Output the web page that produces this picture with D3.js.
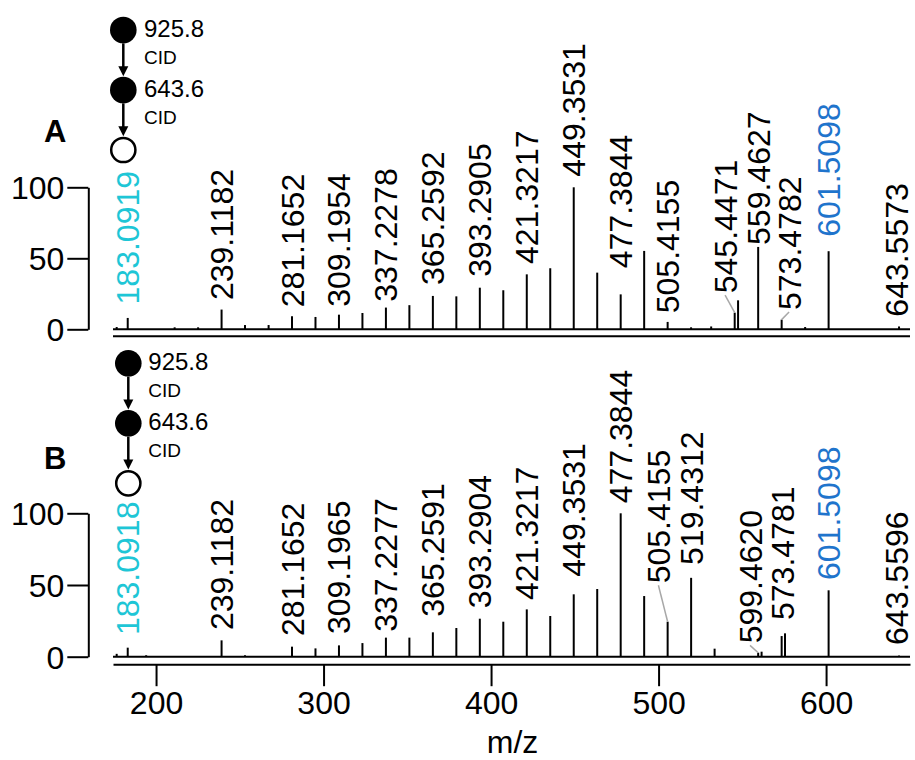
<!DOCTYPE html>
<html>
<head>
<meta charset="utf-8">
<script src="https://cdn.jsdelivr.net/npm/d3@7"></script>
<style>
  html, body { margin: 0; padding: 0; background: #fff; }
  svg { display: block; font-family: "Liberation Sans", Arial, Helvetica, sans-serif; }
</style>
</head>
<body>
<svg id="chart" width="915" height="760"></svg>
<script>
// ---- data -------------------------------------------------------------
const mzTicks = [200, 300, 400, 500, 600];
const intensityTicks = [0, 50, 100];
const precursors = ["925.8", "643.6"];
const activation = "CID";

// Spectrum A: m/z and relative intensity (%)
const peaksAmz  = [176.5, 183.0919, 211.1, 225.1, 239.1182, 253.1, 267.2, 281.1652, 295.18, 309.1954,
                   323.21, 337.2278, 351.24, 365.2592, 379.27, 393.2905, 407.30, 421.3217, 435.33,
                   449.3531, 463.37, 477.3844, 491.40, 505.4155, 519.4, 531.4, 545.4471, 547.46,
                   559.4627, 573.4782, 587.5, 601.5098, 643.5573];
const peaksAint = [1.6, 8.0, 1.4, 1.4, 13.9, 3.0, 3.0, 9.2, 8.7, 10.3,
                   11.5, 15.3, 17.0, 23.5, 23.2, 29.3, 27.5, 38.7, 43.0,
                   100, 39.9, 24.6, 55.2, 5.2, 1.4, 2.0, 11.7, 20.4,
                   58.0, 6.8, 1.6, 55.0, 2.0];

// Spectrum B
const peaksBmz  = [176.5, 183.0918, 194.1, 239.1182, 253.1, 281.1652, 295.18, 309.1965, 323.21,
                   337.2277, 351.24, 365.2591, 379.27, 393.2904, 407.30, 421.3217, 435.33,
                   449.3531, 463.37, 477.3844, 491.40, 505.4155, 519.4312, 533.45, 559.4620,
                   561.5, 573.4781, 575.49, 601.5098, 643.5596];
const peaksBint = [2.0, 6.3, 1.0, 11.4, 1.0, 7.0, 5.8, 7.9, 9.5,
                   13.3, 13.3, 17.0, 20.0, 26.5, 24.4, 33.0, 28.4,
                   43.5, 47.2, 100, 42.3, 24.4, 55.0, 5.6, 2.8,
                   3.5, 14.4, 16.3, 46.3, 0.8];

// Peak annotations: [text, annotated peak m/z, label m/z, label start level (%)]
const labelsA = [
  ["183.0919", 183.0919, 183.0919, 17.5],
  ["239.1182", 239.1182, 239.1182, 20.6],
  ["281.1652", 281.1652, 281.1652, 15.5],
  ["309.1954", 309.1954, 309.1954, 15.9],
  ["337.2278", 337.2278, 337.2278, 19.4],
  ["365.2592", 365.2592, 365.2592, 31.2],
  ["393.2905", 393.2905, 393.2905, 37.0],
  ["421.3217", 421.3217, 421.3217, 46.0],
  ["449.3531", 449.3531, 449.3531, 107.5],
  ["477.3844", 477.3844, 477.3844, 43.0],
  ["505.4155", 505.4155, 505.4155, 11.3],
  ["545.4471", 545.4471, 539.7, 25.4],
  ["559.4627", 559.4627, 559.4627, 59.4],
  ["573.4782", 573.4782, 577.9, 13.6],
  ["601.5098", 601.5098, 601.5098, 65.2],
  ["643.5573", 643.5573, 642.2, 8.9]
];
const labelsB = [
  ["183.0918", 183.0918, 183.0918, 15.1],
  ["239.1182", 239.1182, 239.1182, 18.6],
  ["281.1652", 281.1652, 281.1652, 14.4],
  ["309.1965", 309.1965, 309.1965, 15.8],
  ["337.2277", 337.2277, 337.2277, 17.4],
  ["365.2591", 365.2591, 365.2591, 27.9],
  ["393.2904", 393.2904, 393.2904, 33.7],
  ["421.3217", 421.3217, 421.3217, 39.5],
  ["449.3531", 449.3531, 449.3531, 55.8],
  ["477.3844", 477.3844, 477.3844, 107.0],
  ["505.4155", 505.4155, 499.9, 51.2],
  ["519.4312", 519.4312, 519.4312, 64.0],
  ["599.4620", 559.4620, 554.6, 9.3],
  ["573.4781", 573.4781, 574.0, 25.6],
  ["601.5098", 601.5098, 601.5098, 53.5],
  ["643.5596", 643.5596, 642.0, 8.2]
];

// ---- layout ----------------------------------------------------------
const svg = d3.select("#chart");
const CYAN = "#1ec6d6", BLUE = "#1f74cc", GREY = "#a8a8a8";
const labelFont = 32;

const x = d3.scaleLinear().domain([174.3, 650.1]).range([113, 910]);

const panels = [
  { name: "A", mz: peaksAmz, inten: peaksAint, labels: labelsA,
    y: d3.scaleLinear().domain([0, 100]).range([329.3, 187.3]),
    scheme: { cx: 123.3, cy: 30, tx: 144, letterY: 142 }, xAxis: false },
  { name: "B", mz: peaksBmz, inten: peaksBint, labels: labelsB,
    y: d3.scaleLinear().domain([0, 100]).range([656.7, 513.3]),
    scheme: { cx: 128.3, cy: 363.3, tx: 148.3, letterY: 469 }, xAxis: true }
];

function labelColour(t) {
  if (t.startsWith("183.")) return CYAN;
  if (t.startsWith("601.")) return BLUE;
  return "#000";
}

panels.forEach(p => {
  const g = svg.append("g");
  const y = p.y;
  const base = y(0);

  // intensity axis
  const yAxis = d3.axisLeft(y).tickValues(intensityTicks).tickSize(21).tickSizeOuter(0).tickPadding(3);
  const ya = g.append("g").attr("transform", "translate(88.3,0)").call(yAxis);
  ya.selectAll("path, line").attr("stroke", "#000").attr("stroke-width", 2);
  ya.selectAll("text").attr("font-size", 32).attr("font-family", "Liberation Sans, Arial, sans-serif")
    .attr("fill", "#000").attr("dy", "0.36em");

  // spectrum baseline
  g.append("line").attr("x1", x.range()[0]).attr("x2", x.range()[1])
    .attr("y1", base).attr("y2", base).attr("stroke", "#000").attr("stroke-width", 2);

  // lower rule / m/z axis
  if (p.xAxis) {
    const xAxis = d3.axisBottom(x).tickValues(mzTicks).tickSize(22).tickSizeOuter(0).tickPadding(5);
    const xa = g.append("g").attr("transform", `translate(0,${base + 7.5})`).call(xAxis);
    xa.selectAll("path, line").attr("stroke", "#000").attr("stroke-width", 2);
    xa.selectAll("text").attr("font-size", 32).attr("font-family", "Liberation Sans, Arial, sans-serif")
      .attr("fill", "#000");
  } else {
    g.append("line").attr("x1", x.range()[0]).attr("x2", x.range()[1])
      .attr("y1", base + 7).attr("y2", base + 7).attr("stroke", "#000").attr("stroke-width", 2);
  }

  // sticks
  g.append("g").selectAll("line").data(d3.zip(p.mz, p.inten)).join("line")
    .attr("x1", d => x(d[0])).attr("x2", d => x(d[0]))
    .attr("y1", base).attr("y2", d => y(d[1]))
    .attr("stroke", "#000").attr("stroke-width", 2);

  // leader lines for labels pulled away from crowded peaks
  const peakInt = new Map(d3.zip(p.mz, p.inten));
  g.append("g").selectAll("line")
    .data(p.labels.filter(l => Math.abs(l[1] - l[2]) > 2)).join("line")
    .attr("x1", d => x(d[2])).attr("y1", d => y(d[3]) + 2)
    .attr("x2", d => x(d[1])).attr("y2", d => y(peakInt.get(d[1])))
    .attr("stroke", GREY).attr("stroke-width", 1.5);

  // peak labels (vertical)
  g.append("g").selectAll("text").data(p.labels).join("text")
    .attr("transform", d => `translate(${x(d[2]) + 0.36 * labelFont},${y(d[3])}) rotate(-90)`)
    .attr("font-size", labelFont).attr("fill", d => labelColour(d[0]))
    .text(d => d[0]);

  // MS/MS scheme
  const s = p.scheme, r = 13.3, step = 60;
  const sc = g.append("g");
  [0, 1].forEach(i => {
    const cy = s.cy + i * step;
    sc.append("circle").attr("cx", s.cx).attr("cy", cy).attr("r", r).attr("fill", "#000");
    const y0 = cy + r, y1 = cy + step - r - 0.5;
    sc.append("line").attr("x1", s.cx).attr("x2", s.cx).attr("y1", y0).attr("y2", y1 - 8)
      .attr("stroke", "#000").attr("stroke-width", 2.5);
    sc.append("path").attr("d", `M${s.cx - 5},${y1 - 10} L${s.cx + 5},${y1 - 10} L${s.cx},${y1} Z`).attr("fill", "#000");
    sc.append("text").attr("x", s.tx).attr("y", cy + 7).attr("font-size", 24).text(precursors[i]);
    sc.append("text").attr("x", s.tx).attr("y", cy + 34).attr("font-size", 19).text(activation);
  });
  sc.append("circle").attr("cx", s.cx).attr("cy", s.cy + 2 * step).attr("r", r - 1.2)
    .attr("fill", "#fff").attr("stroke", "#000").attr("stroke-width", 2.5);

  // panel letter
  g.append("text").attr("x", 44).attr("y", s.letterY).attr("font-size", 31)
    .attr("font-weight", "bold").text(p.name);
});

// m/z title
svg.append("text").attr("x", 512.5).attr("y", 753).attr("text-anchor", "middle")
  .attr("font-size", 32).text("m/z");
</script>
</body>
</html>
